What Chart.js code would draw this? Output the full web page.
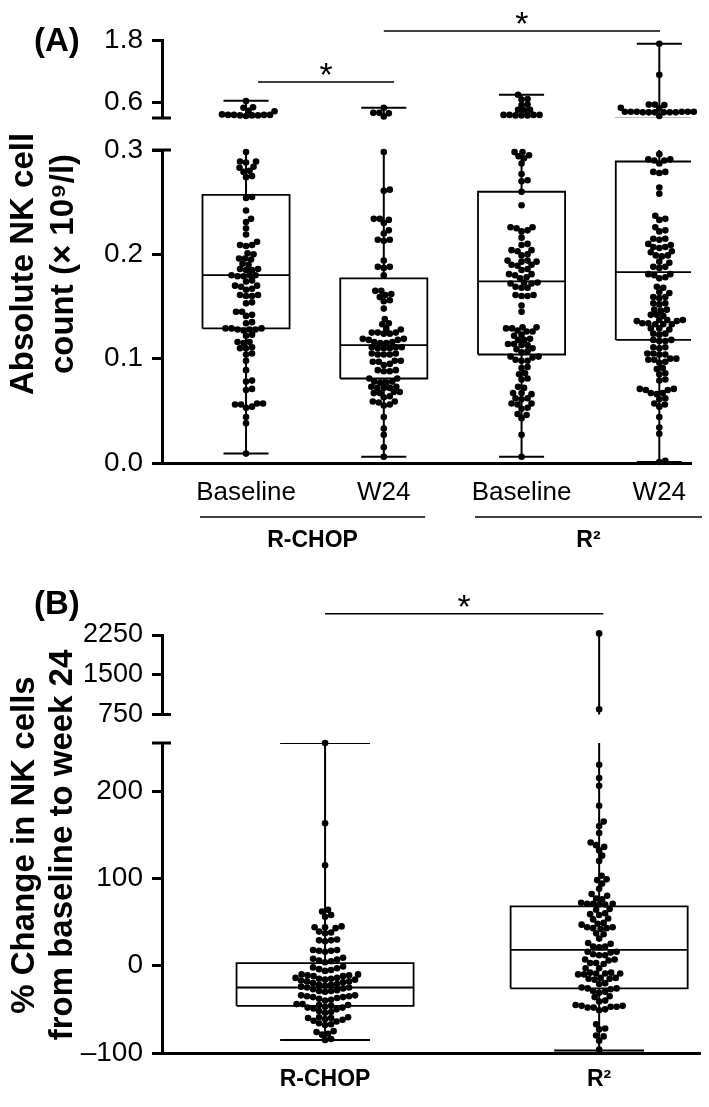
<!DOCTYPE html>
<html>
<head>
<meta charset="utf-8">
<script src="https://cdn.jsdelivr.net/npm/chart.js@4.4.0/dist/chart.umd.min.js"></script>
<style>
  body { margin: 0; background: #fff; }
  #wrap { position: relative; width: 709px; height: 1107px; overflow: hidden; font-family: "Liberation Sans", Arial, sans-serif; color: #000; }
  canvas { position: absolute; left: 0; }
  .lab { position: absolute; font-weight: bold; white-space: nowrap; line-height: 1; }
  .ytitle { position: absolute; width: 440px; font-weight: bold; text-align: center; white-space: nowrap; transform: rotate(-90deg); transform-origin: center; }
</style>
</head>
<body>
<div id="wrap">
  <canvas id="aTop" width="709" height="125" style="top:0px"></canvas>
  <canvas id="aBot" width="709" height="440" style="top:125px"></canvas>
  <canvas id="bTop" width="709" height="174" style="top:560px"></canvas>
  <canvas id="bBot" width="709" height="387" style="top:720px"></canvas>
  <div class="lab" style="left:34px;top:23px;font-size:33px;">(A)</div>
  <div class="lab" style="left:34px;top:586px;font-size:33px;">(B)</div>
  <div class="ytitle" style="left:-178px;top:224px;height:80px;font-size:33px;line-height:40px;">Absolute NK cell<br>count (× 10⁹/l)</div>
  <div class="ytitle" style="left:-178px;top:807px;height:76px;font-size:33px;line-height:38px;">% Change in NK cells<br>from baseline to week 24</div>
</div>
<script>
// ---------- panel A data ----------
var aLabels = ['Baseline', 'W24', 'Baseline', 'W24'];
var aPos = [0, 1, 2, 3];
var aGroupNames = ['R-CHOP', 'R²'];
var aGroupFrom = [-0.334, 1.662];
var aGroupTo = [1.30, 3.31];
var aMin = [0.009, 0.006, 0.006, 0.001];
var aQ1 = [0.129, 0.081, 0.104, 0.118];
var aMed = [0.180, 0.113, 0.174, 0.183];
var aQ3 = [0.257, 0.177, 0.260, 0.289];
var aMax = [0.634, 0.498, 0.75, 1.74];
var aTicksTop = [0.6, 1.8];
var aTicksBottom = [0.0, 0.1, 0.2, 0.3];
var aSigFrom = [0.087, 1.0];
var aSigTo = [1.075, 3.005];
var aSigY = [1.0, 1.99];

var aRchopBase = [
  0.63, 0.51, 0.50, 0.44, 0.43, 0.37, 0.36, 0.36, 0.36, 0.36, 0.35, 0.35, 0.35, 0.34,
  0.298, 0.289, 0.289, 0.288, 0.284, 0.283, 0.280, 0.279, 0.275, 0.274,
  0.255, 0.254, 0.242, 0.234, 0.231, 0.225, 0.219, 0.212, 0.209, 0.209, 0.208,
  0.201, 0.200, 0.196, 0.196, 0.195, 0.191, 0.190, 0.186, 0.186, 0.185, 0.185,
  0.180, 0.180, 0.180, 0.179, 0.179, 0.175, 0.174, 0.170, 0.170, 0.169, 0.167, 0.166,
  0.161, 0.161, 0.160, 0.160, 0.154, 0.153, 0.145, 0.145, 0.142, 0.141, 0.135, 0.134,
  0.129, 0.129, 0.129, 0.128, 0.128, 0.128, 0.127, 0.123, 0.122, 0.116, 0.116, 0.115,
  0.111, 0.110, 0.110, 0.105, 0.104, 0.098, 0.089, 0.079, 0.078, 0.071, 0.070,
  0.057, 0.057, 0.056, 0.056, 0.054, 0.053, 0.044, 0.038, 0.009
];
var aRchopW24 = [
  0.50, 0.40, 0.40, 0.39, 0.33,
  0.298, 0.262, 0.261, 0.234, 0.234, 0.233, 0.230, 0.223, 0.220, 0.214, 0.214, 0.213,
  0.194, 0.188, 0.188, 0.187, 0.180, 0.165, 0.165, 0.162, 0.161, 0.159, 0.156, 0.155,
  0.148, 0.138, 0.134, 0.133, 0.129, 0.128,
  0.125, 0.125, 0.125, 0.124, 0.124, 0.119, 0.119, 0.118, 0.118,
  0.116, 0.116, 0.115, 0.115, 0.111, 0.111, 0.111, 0.110, 0.110, 0.110,
  0.105, 0.105, 0.104, 0.104, 0.104, 0.098, 0.098, 0.097, 0.097, 0.095, 0.094,
  0.089, 0.089, 0.088, 0.088, 0.081, 0.081, 0.078, 0.078, 0.077, 0.077,
  0.073, 0.073, 0.072, 0.072, 0.072, 0.068, 0.068, 0.067, 0.067, 0.064, 0.063,
  0.059, 0.059, 0.058, 0.056, 0.055, 0.044, 0.033, 0.027, 0.015, 0.006
];
var aR2Base = [
  0.75, 0.67, 0.66, 0.56, 0.55, 0.46, 0.46, 0.45, 0.36, 0.36, 0.36, 0.36, 0.35, 0.35, 0.35,
  0.298, 0.298, 0.295, 0.294, 0.292, 0.287, 0.277, 0.271, 0.270, 0.260, 0.247,
  0.226, 0.226, 0.225, 0.223, 0.222, 0.216, 0.210, 0.209, 0.204, 0.204, 0.203, 0.200, 0.199,
  0.194, 0.194, 0.193, 0.193, 0.190, 0.190, 0.189, 0.186, 0.185, 0.181, 0.181, 0.180,
  0.178, 0.177, 0.173, 0.173, 0.172, 0.172, 0.169, 0.168, 0.168,
  0.161, 0.161, 0.160, 0.160, 0.151, 0.145,
  0.130, 0.130, 0.129, 0.129, 0.127, 0.126, 0.126, 0.123, 0.122, 0.119, 0.118, 0.118,
  0.114, 0.114, 0.113, 0.113, 0.110, 0.109, 0.107, 0.106, 0.102, 0.102, 0.101, 0.099, 0.098, 0.098,
  0.092, 0.091, 0.086, 0.085, 0.081, 0.080, 0.073, 0.072, 0.067, 0.067, 0.066,
  0.062, 0.062, 0.061, 0.057, 0.057, 0.056, 0.053, 0.052, 0.047, 0.046, 0.043, 0.027, 0.006
];
var aR2W24 = [
  1.74, 1.14, 0.56, 0.56, 0.55, 0.50, 0.50, 0.49,
  0.42, 0.42, 0.42, 0.42, 0.42, 0.42, 0.42, 0.41, 0.41, 0.41, 0.41, 0.41, 0.41, 0.34,
  0.296, 0.291, 0.291, 0.290, 0.290, 0.287, 0.279, 0.279, 0.278, 0.264, 0.258,
  0.237, 0.234, 0.233, 0.226, 0.223, 0.222, 0.215, 0.215, 0.214, 0.210, 0.209,
  0.207, 0.207, 0.206, 0.203, 0.202, 0.199, 0.199, 0.198, 0.193, 0.192,
  0.188, 0.188, 0.187, 0.181, 0.181, 0.180, 0.178, 0.177, 0.169, 0.168, 0.164, 0.163,
  0.159, 0.159, 0.158, 0.153, 0.153, 0.152, 0.147, 0.147, 0.146, 0.142, 0.142, 0.141,
  0.137, 0.137, 0.137, 0.136, 0.136, 0.134, 0.134, 0.133, 0.133, 0.133,
  0.129, 0.129, 0.128, 0.124, 0.124, 0.123, 0.118, 0.118, 0.117, 0.117,
  0.111, 0.111, 0.110, 0.105, 0.105, 0.104, 0.104, 0.100, 0.100, 0.099, 0.099, 0.097, 0.096,
  0.091, 0.090, 0.086, 0.085, 0.080, 0.079, 0.071, 0.071, 0.070, 0.070, 0.067, 0.067, 0.066,
  0.062, 0.061, 0.057, 0.056, 0.054, 0.044, 0.034, 0.028, 0.002, 0.001
];

// ---------- panel B data ----------
var bLabels = ['R-CHOP', 'R²'];
var bPos = [0, 1];
var bMin = [-85, -97];
var bQ1 = [-46, -26];
var bMed = [-25, 18];
var bQ3 = [3, 68];
var bMax = [255, 2280];
var bTicksTop = [750, 1500, 2250];
var bTicksBottom = [-100, 0, 100, 200];
var bSigFrom = [0];
var bSigTo = [1.015];
var bSigY = [2650];

var bRchop = [
  255, 163, 115, 64, 62, 58, 56, 45, 44, 44, 43, 39, 38, 37, 30, 29, 29, 28,
  18, 18, 17, 17, 16, 9, 8, 7, 6, 5, 4, -1, -2, -3, -4, -5, -6,
  -10, -10, -11, -11, -12, -12, -14, -14, -15, -15, -16, -16, -17, -18, -18, -19,
  -20, -21, -22, -22, -23, -24, -25, -25, -26, -27, -28, -29, -29, -30,
  -34, -34, -35, -35, -36, -36, -37, -38, -39, -40, -44, -44, -45, -45, -46, -47,
  -48, -48, -49, -50, -52, -53, -54, -59, -59, -60, -60, -61, -62, -63, -64,
  -66, -67, -68, -75, -76, -78, -79, -84, -85
];
var bR2 = [
  2280, 850, 230, 215, 206, 183, 165, 160, 152, 141, 138, 136, 132, 126, 120,
  103, 99, 98, 94, 88, 82, 80, 77, 76, 72, 71, 71, 71, 70, 70,
  65, 64, 60, 59, 58, 54, 53, 49, 48, 47, 44, 44, 43, 43, 42,
  37, 36, 31, 26, 25, 22, 22, 21, 16, 16, 15, 13, 12, 12,
  7, 7, 6, 3, 3, 2, -3, -3, -8, -8, -9, -9, -9, -10, -10,
  -14, -14, -15, -15, -16, -20, -21, -25, -26, -26, -27, -29, -30, -31,
  -35, -36, -40, -41, -45, -46, -46, -47, -47, -48, -48, -50, -51,
  -67, -72, -73, -80, -81, -86, -96
];

var FONT = '"Liberation Sans", Arial, sans-serif';

// box, whisker and cap lines as little polylines
function boxSets(pos, mins, q1s, meds, q3s, maxs, boxW, capW) {
  var sets = [];
  function seg(pts, w) {
    sets.push({ data: pts, showLine: true, borderColor: '#000', borderWidth: w,
      borderJoinStyle: 'miter', pointRadius: 0, order: 2 });
  }
  pos.forEach(function (c, i) {
    var h = boxW / 2, k = capW / 2;
    seg([{x: c - h, y: q1s[i]}, {x: c + h, y: q1s[i]}, {x: c + h, y: q3s[i]},
         {x: c - h, y: q3s[i]}, {x: c - h, y: q1s[i]}], 1.8);
    seg([{x: c - h, y: meds[i]}, {x: c + h, y: meds[i]}], 1.8);
    seg([{x: c, y: mins[i]}, {x: c, y: q1s[i]}], 2);
    seg([{x: c, y: q3s[i]}, {x: c, y: maxs[i]}], 2);
    seg([{x: c - k, y: mins[i]}, {x: c + k, y: mins[i]}], 2);
    seg([{x: c - k, y: maxs[i]}, {x: c + k, y: maxs[i]}], 2);
  });
  return sets;
}

function pointSets(pos, groups, lo, hi, r) {
  return groups.map(function (vals, i) {
    return {
      data: vals.filter(function (v) { return v >= lo && v <= hi; })
                .map(function (v) { return {x: pos[i], y: v}; }),
      pointRadius: r, pointBackgroundColor: '#000', pointBorderWidth: 0,
      showLine: false, clip: false, order: 1, swarm: true
    };
  });
}

// axis break stubs, significance bars, group lines
var decor = {
  id: 'decor',
  afterDraw: function (chart, args, o) {
    var ctx = chart.ctx, xs = chart.scales.x, ys = chart.scales.y;
    ctx.save();
    ctx.strokeStyle = '#000';
    ctx.fillStyle = '#000';
    (o.breaks || []).forEach(function (v) {
      var py = ys.getPixelForValue(v);
      ctx.lineWidth = 3;
      ctx.beginPath(); ctx.moveTo(xs.left - 10, py); ctx.lineTo(xs.left + 9, py); ctx.stroke();
    });
    (o.sig || []).forEach(function (s) {
      var py = ys.getPixelForValue(s.y);
      var x1 = xs.getPixelForValue(s.from), x2 = xs.getPixelForValue(s.to);
      ctx.lineWidth = 1.5;
      ctx.beginPath(); ctx.moveTo(x1, py); ctx.lineTo(x2, py); ctx.stroke();
      ctx.font = '34px ' + FONT;
      ctx.textAlign = 'center';
      ctx.textBaseline = 'alphabetic';
      var m = ctx.measureText('*');
      var cy = py - 13;
      ctx.fillText('*', (x1 + x2) / 2, cy + (m.actualBoundingBoxAscent - m.actualBoundingBoxDescent) / 2);
    });
    (o.groups || []).forEach(function (g) {
      var x1 = xs.getPixelForValue(g.from), x2 = xs.getPixelForValue(g.to);
      var ly = xs.top + 54;
      ctx.lineWidth = 1.5;
      ctx.beginPath(); ctx.moveTo(x1, ly); ctx.lineTo(x2, ly); ctx.stroke();
      ctx.font = 'bold 23px ' + FONT;
      ctx.textAlign = 'center';
      ctx.textBaseline = 'middle';
      ctx.fillText(g.label, (x1 + x2) / 2, xs.top + 78);
    });
    ctx.restore();
  }
};

function makeChart(id, c) {
  return new Chart(document.getElementById(id), {
    type: 'scatter',
    data: { datasets: c.datasets },
    options: {
      responsive: false, animation: false, events: [],
      layout: { padding: c.padding },
      plugins: { legend: { display: false }, tooltip: { enabled: false }, decor: c.decor },
      scales: {
        x: {
          type: 'linear', min: c.xMin, max: c.xMax, display: c.showX,
          afterBuildTicks: function (s) { s.ticks = c.xPos.map(function (v) { return {value: v}; }); },
          afterFit: function (s) { s.height = c.xHeight; s.paddingLeft = 0; s.paddingRight = 0; },
          grid: { display: false, drawTicks: false },
          border: { display: true, color: '#000', width: 3 },
          ticks: { color: '#000', font: c.xFont, padding: c.xPad, maxRotation: 0, autoSkip: false,
                   callback: function (v, i) { return c.xLabels[i]; } }
        },
        y: {
          type: 'linear', min: c.yMin, max: c.yMax,
          afterBuildTicks: function (s) { s.ticks = c.yTicks.map(function (v) { return {value: v}; }); },
          afterFit: function (s) { s.width = 162; s.paddingTop = 0; s.paddingBottom = 0; },
          grid: { drawOnChartArea: false, drawTicks: true, tickLength: 10, tickWidth: 3, color: '#000' },
          border: { display: true, color: '#000', width: 3 },
          ticks: { color: '#000', font: c.yFont, padding: 9, callback: c.yFmt }
        }
      }
    },
    plugins: [decor]
  });
}

// spread points sideways so they do not overlap (beeswarm)
function swarm(chart, D) {
  var xs = chart.scales.x, ys = chart.scales.y;
  chart.data.datasets.forEach(function (ds) {
    if (!ds.swarm || !ds.data.length) return;
    var cx = xs.getPixelForValue(ds.data[0].x);
    var placed = [];
    ds.data.slice().sort(function (a, b) { return a.y - b.y; }).forEach(function (p) {
      var py = ys.getPixelForValue(p.y), dx = 0;
      for (var s = 0; s < 600; s++) {
        dx = (s % 2 ? 1 : -1) * Math.ceil(s / 2) * 0.5;
        var ok = placed.every(function (q) {
          var ex = q.x - cx - dx, ey = q.y - py;
          return ex * ex + ey * ey >= D * D;
        });
        if (ok) break;
      }
      placed.push({x: cx + dx, y: py});
      p.x = xs.getValueForPixel(cx + dx);
    });
  });
  chart.update('none');
}

var aGroupsPts = [aRchopBase, aRchopW24, aR2Base, aR2W24];
var fmtA = function (v) { return v.toFixed(1); };
var fmtB = function (v) { return v < 0 ? '–' + Math.abs(v) : String(v); };
var aBoxes = function () { return boxSets(aPos, aMin, aQ1, aMed, aQ3, aMax, 0.632, 0.327); };
var bBoxes = function () { return boxSets(bPos, bMin, bQ1, bMed, bQ3, bMax, 0.646, 0.328); };

var chartATop = makeChart('aTop', {
  datasets: pointSets(aPos, aGroupsPts, 0.3, 1.8, 3.3).concat(aBoxes()),
  padding: { top: 40.7, bottom: 7, left: 0, right: 18 },
  xMin: -0.61, xMax: 3.23, xPos: aPos, xLabels: aLabels, showX: false, xHeight: 0, xPad: 0,
  xFont: { family: FONT, size: 26 },
  yMin: 0.3, yMax: 1.8, yTicks: aTicksTop, yFont: { family: FONT, size: 28 }, yFmt: fmtA,
  decor: { breaks: [0.3], sig: aSigY.map(function (y, i) { return {from: aSigFrom[i], to: aSigTo[i], y: y}; }) }
});

var chartABot = makeChart('aBot', {
  datasets: pointSets(aPos, aGroupsPts, 0, 0.3, 3.3).concat(aBoxes()),
  padding: { top: 25, bottom: 47, left: 0, right: 18 },
  xMin: -0.61, xMax: 3.23, xPos: aPos, xLabels: aLabels, showX: true, xHeight: 55, xPad: 14,
  xFont: { family: FONT, size: 26 },
  yMin: 0, yMax: 0.3, yTicks: aTicksBottom, yFont: { family: FONT, size: 28 }, yFmt: fmtA,
  decor: { breaks: [0.3], groups: aGroupNames.map(function (n, i) { return {label: n, from: aGroupFrom[i], to: aGroupTo[i]}; }) }
});

var chartBTop = makeChart('bTop', {
  datasets: pointSets(bPos, [bRchop, bR2], 750, 2600, 3.3).concat(bBoxes()),
  padding: { top: 75, bottom: 19.5, left: 0, right: 9 },
  xMin: -0.595, xMax: 1.368, xPos: bPos, xLabels: bLabels, showX: false, xHeight: 0, xPad: 0,
  xFont: { family: FONT, size: 23, weight: 'bold' },
  yMin: 750, yMax: 2250, yTicks: bTicksTop, yFont: { family: FONT, size: 27 }, yFmt: fmtB,
  decor: { breaks: [750], sig: bSigY.map(function (y, i) { return {from: bSigFrom[i], to: bSigTo[i], y: y}; }) }
});

var chartBBot = makeChart('bBot', {
  datasets: pointSets(bPos, [bRchop, bR2], -100, 255, 3.3).concat(bBoxes()),
  padding: { top: 23, bottom: 14, left: 0, right: 9 },
  xMin: -0.595, xMax: 1.368, xPos: bPos, xLabels: bLabels, showX: true, xHeight: 40, xPad: 13,
  xFont: { family: FONT, size: 23, weight: 'bold' },
  yMin: -100, yMax: 255, yTicks: bTicksBottom, yFont: { family: FONT, size: 28 }, yFmt: fmtB,
  decor: { breaks: [255] }
});

swarm(chartATop, 5.6);
swarm(chartABot, 5.6);
swarm(chartBTop, 6);
swarm(chartBBot, 6);
</script>
</body>
</html>
